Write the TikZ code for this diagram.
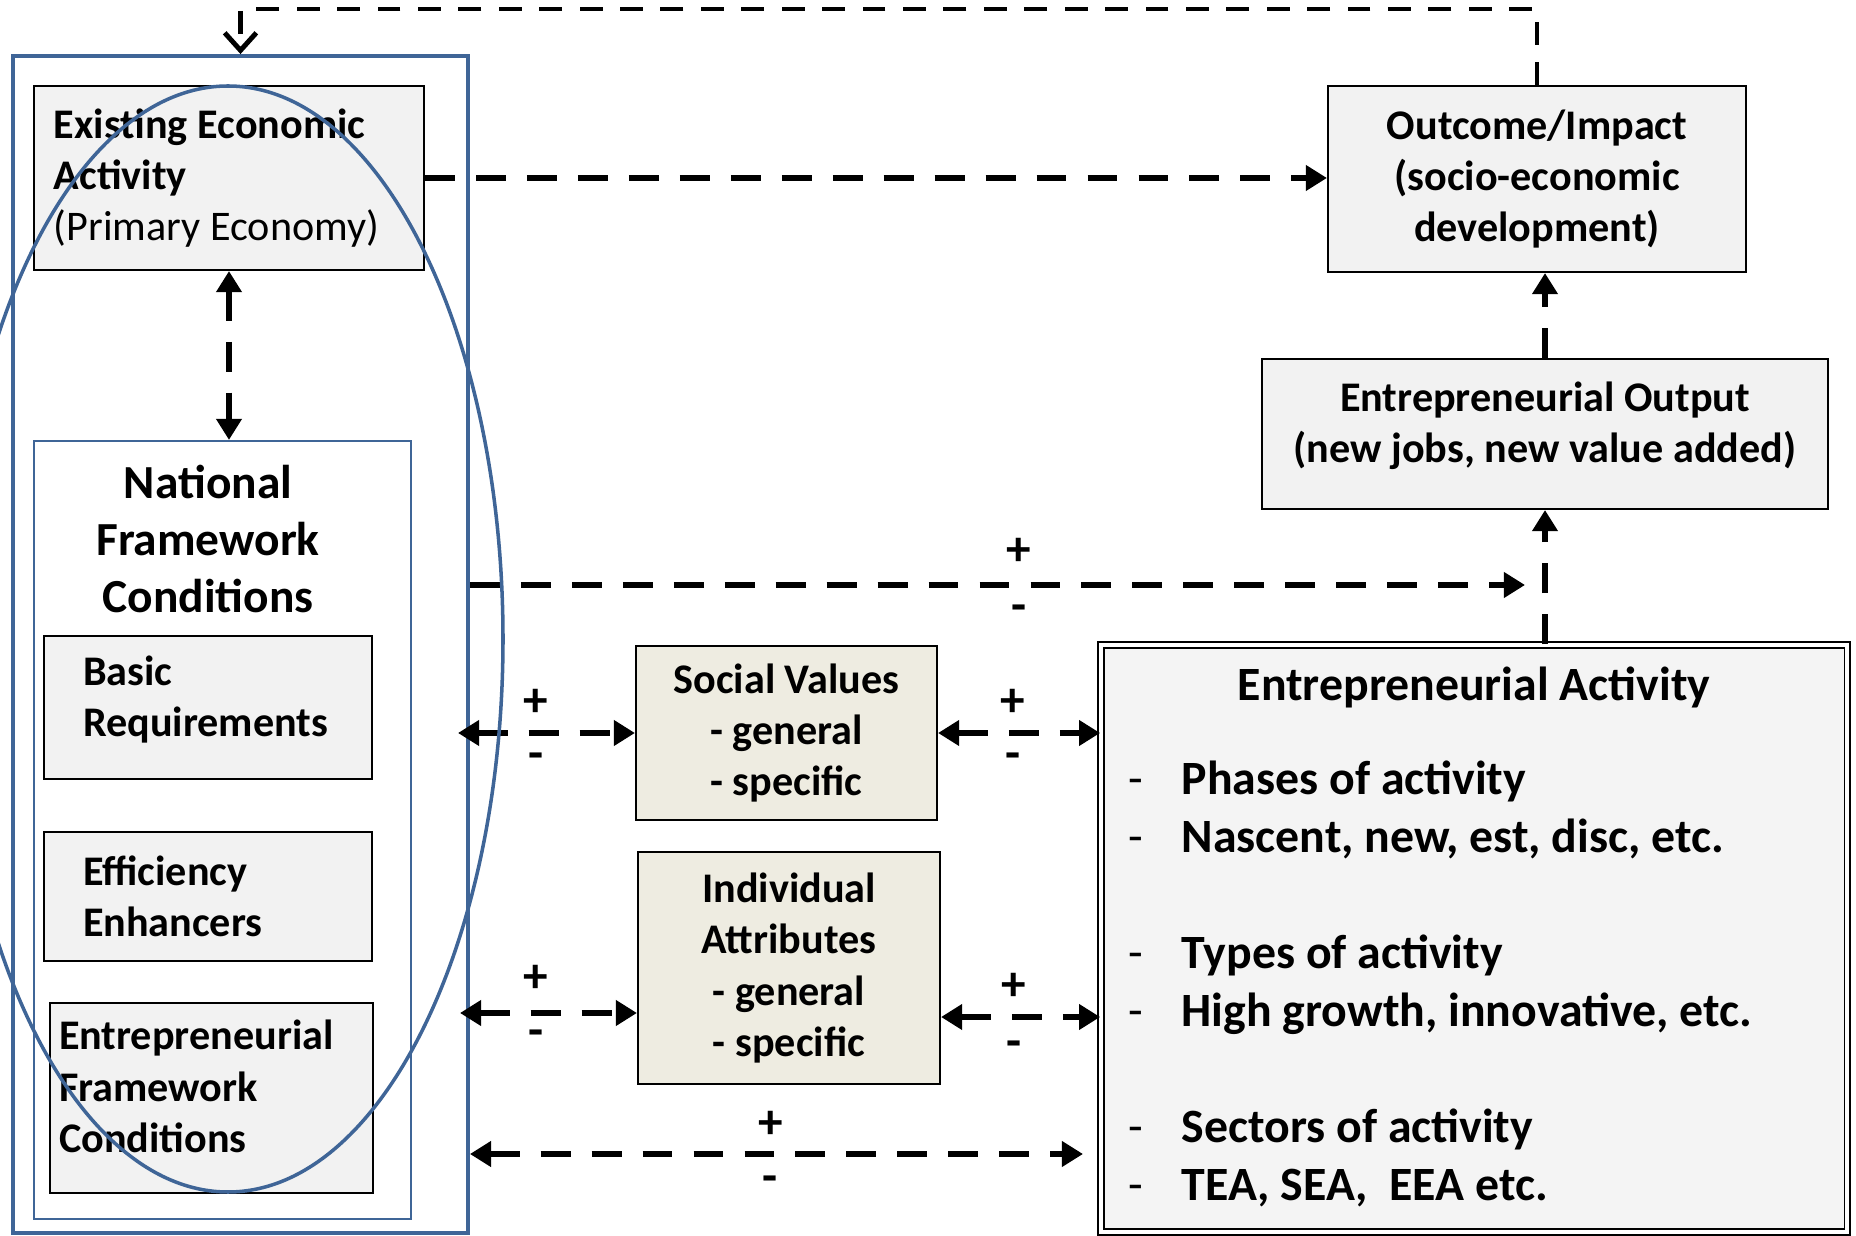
\documentclass[tikz,border=0pt]{standalone}
\usepackage{fontspec}
\setmainfont{Carlito}
\usetikzlibrary{positioning}
\usetikzlibrary{arrows.meta}
\usepackage{xcolor}
\definecolor{boxgray}{HTML}{F2F2F2}
\definecolor{eagray}{HTML}{F4F4F4}
\definecolor{tanfill}{HTML}{EEECE1}
\definecolor{frameblue}{HTML}{3F6597}

\tikzset{
  box/.style={draw=black, fill=boxgray, line width=0.6pt, inner ysep=0pt,
    font=\fontsize{12}{14.6}\selectfont\bfseries},
  tanbox/.style={box, fill=tanfill, align=center},
  link/.style={line width=1.8pt, dash pattern=on 8.5pt off 6pt,
    -{Triangle[length=6pt,width=7pt]}},
  twolink/.style={link, {Triangle[length=6pt,width=7pt]}-{Triangle[length=6pt,width=7pt]}},
  pm/.style={font=\fontsize{14}{16}\selectfont\bfseries, inner sep=0pt},
}

\begin{document}
\begin{tikzpicture}

\useasboundingbox (0,0) rectangle (18.56,12.35);

% left column
\node[draw=frameblue, line width=1.1pt, minimum width=4.55cm, minimum height=11.77cm, inner sep=0pt] (frame) at (2.405,5.905) {};

\node[box, minimum width=3.90cm, minimum height=1.84cm, text width=3.50cm, inner xsep=0.20cm, align=flush left] (eea) at (2.29,10.57)
{Existing Economic\\Activity\\\mdseries(Primary Economy)};

\node[draw=frameblue, line width=0.6pt, minimum width=3.77cm, minimum height=7.78cm, inner sep=0pt] (nfc) at (2.225,4.05) {};
\node[font=\fontsize{13.5}{16.2}\selectfont\bfseries, align=center] (nfctitle) at (2.08,6.96)
{National\\Framework\\Conditions};

\node[box, minimum width=3.28cm, minimum height=1.43cm, text width=2.50cm, inner xsep=0.39cm, align=flush left] (basic) at (2.08,5.275)
{Basic\\Requirements\\[-8pt]\mbox{}};
\node[box, minimum width=3.28cm, minimum height=1.29cm, text width=2.50cm, inner xsep=0.39cm, align=flush left] (eff) at (2.08,3.385)
{Efficiency\\Enhancers};
\node[box, minimum width=3.23cm, minimum height=1.90cm, text width=3.05cm, inner xsep=0.09cm, align=flush left] (efc) at (2.115,1.37)
{Entrepreneurial\\Framework\\Conditions\\[-8pt]\mbox{}};

% middle column
\node[tanbox, minimum width=3.01cm, minimum height=1.74cm] (sv) at (7.865,5.02)
{Social Values\\- general\\- specific};
\node[tanbox, minimum width=3.02cm, minimum height=2.32cm] (ia) at (7.89,2.67)
{Individual\\Attributes\\- general\\- specific};

% right column
\node[box, minimum width=4.18cm, minimum height=1.86cm, align=center] (oc) at (15.37,10.56)
{Outcome/Impact\\(socio-economic\\development)};
\node[box, minimum width=5.66cm, minimum height=1.50cm, text width=5.40cm, inner xsep=0.13cm, align=flush center] (out) at (15.45,8.01)
{Entrepreneurial Output\\(new jobs, new value added)\\[-8pt]\mbox{}};

\node[draw=black, fill=eagray, double, line width=0.5pt, double distance=1pt, minimum width=7.46cm, minimum height=5.87cm, inner sep=0pt] (ea) at (14.74,2.965) {};
\node[font=\fontsize{13.6}{16}\selectfont\bfseries] (eatitle) at (14.74,5.48) {Entrepreneurial Activity};
\node[anchor=base west, inner sep=0pt, font=\fontsize{13.6}{16.5}\selectfont\bfseries] (ealist) at (11.28,4.40)
{\begin{tabular}[t]{@{}p{0.53cm}@{}l@{}}
{\mdseries -} & Phases of activity\\
{\mdseries -} & Nascent, new, est, disc, etc.\\[16.5pt]
{\mdseries -} & Types of activity\\
{\mdseries -} & High growth, innovative, etc.\\[16.5pt]
{\mdseries -} & Sectors of activity\\
{\mdseries -} & TEA, SEA,\ \ EEA etc.
\end{tabular}};

% connectors
\coordinate (topy) at (0,12.26);
\coordinate (midend) at (15.25,6.50);
\coordinate (svl) at (4.58,5.02);
\coordinate (ial) at (4.60,2.22);
\coordinate (iay) at (0,2.18);
\coordinate (bot) at (10.83,0.81);

\draw[link, line width=1.4pt, dash pattern=on 6.5pt off 5pt, -{Straight Barb[length=5pt,width=9pt]}]
  (oc.north) |- (frame.north |- topy) -- (frame.north);
\draw[link] (eea.east) -- (eea.east -| oc.west);
\draw[twolink] (eea.south) -- (eea.south |- nfc.north);
\draw[link] (out.north) -- (out.north |- oc.south);
\draw[link] (out.south |- ea.north) -- (out.south);

\draw[link] (frame.east |- midend) -- (midend)
  node[pm, pos=0.52, yshift=0.33cm] (pm1) {+} node[pm, pos=0.52, yshift=-0.28cm] (mm1) {-};
\draw[twolink] (svl) -- (sv)
  node[pm, pos=0.44, yshift=0.30cm] (pm2) {+} node[pm, pos=0.44, yshift=-0.28cm] (mm2) {-};
\draw[twolink] (sv) -- (sv -| ea.west)
  node[pm, pos=0.46, yshift=0.30cm] (pm3) {+} node[pm, pos=0.46, yshift=-0.28cm] (mm3) {-};
\draw[twolink] (ial) -- (ial -| ia.west)
  node[pm, pos=0.43, yshift=0.34cm] (pm4) {+} node[pm, pos=0.43, yshift=-0.25cm] (mm4) {-};
\draw[twolink] (ia.east |- iay) -- (ea.west |- iay)
  node[pm, pos=0.46, yshift=0.30cm] (pm5) {+} node[pm, pos=0.46, yshift=-0.32cm] (mm5) {-};
\draw[twolink] (frame.east |- bot) -- (bot)
  node[pm, pos=0.49, yshift=0.29cm] (pm6) {+} node[pm, pos=0.49, yshift=-0.30cm] (mm6) {-};

% ellipse over the left column
\draw[frameblue, line width=1pt] (2.28,5.96) ellipse [x radius=2.75, y radius=5.53];

\end{tikzpicture}
\end{document}
